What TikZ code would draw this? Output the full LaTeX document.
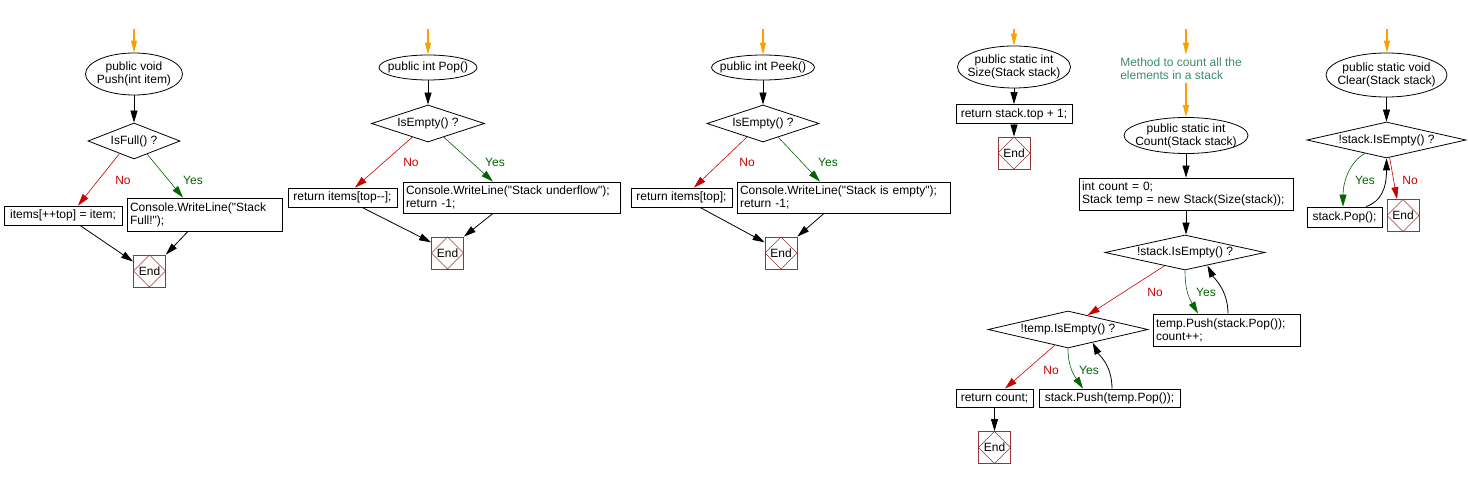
\documentclass[tikz,border=0pt]{standalone}
\usepackage{fontspec}
\setmainfont{Liberation Sans}[Ligatures=TeXOff]
\usepackage{tikz}
\usetikzlibrary{shapes.geometric, arrows.meta}
\definecolor{nored}{RGB}{204,0,0}
\definecolor{yesgreen}{RGB}{0,102,0}
\definecolor{entryorange}{RGB}{255,160,0}
\definecolor{endred}{RGB}{153,51,51}
\definecolor{notegreen}{RGB}{60,140,110}
\tikzstyle{arrow} = [line width=0.8pt, -{Triangle[length=12pt,width=7pt]}]
\tikzstyle{noarrow} = [arrow, draw=nored, line width=0.6pt]
\tikzstyle{yesarrow} = [arrow, draw=yesgreen, line width=0.6pt]
\tikzstyle{entry} = [line width=1.2pt, draw=entryorange, -{Triangle[length=12pt,width=6pt]}]
\tikzstyle{terminal} = [ellipse, draw, line width=0.8pt, align=center, inner xsep=-30pt, inner ysep=-12pt]
\tikzstyle{decision} = [diamond, draw, line width=0.8pt, inner xsep=-40pt, inner ysep=-8pt]
\tikzstyle{process} = [rectangle, draw, line width=0.8pt, align=left, inner xsep=3pt, inner ysep=0pt]
\tikzstyle{stopbox} = [rectangle, draw=endred, line width=0.8pt, minimum width=32pt, minimum height=32pt, inner sep=0pt,
  path picture={\draw[endred, line width=0.6pt] (path picture bounding box.north) -- (path picture bounding box.east)
    -- (path picture bounding box.south) -- (path picture bounding box.west) -- cycle;}]
\tikzstyle{nolabel} = [text=nored]
\tikzstyle{yeslabel} = [text=yesgreen]
\tikzstyle{notetext} = [text=notegreen, align=left]

\begin{document}
\begin{tikzpicture}[x=1pt, y=-1pt, font=\fontsize{12}{13}\selectfont]

\fill[white] (0,0) rectangle (1468,478);
\useasboundingbox (0,0) rectangle (1468,478);

% Push
\coordinate (push_in) at (134,29);
\node (push_start) [terminal, minimum width=97pt, minimum height=42pt] at (134,74) {public void\\Push(int item)};
\node (push_full) [decision, node distance=67pt, below of=push_start, minimum width=92pt, minimum height=36pt] {IsFull() ?};
\node (push_item) [process, node distance=74.5pt, below of=push_full, xshift=-71pt, minimum width=118pt, minimum height=19pt] {items[++top] = item;};
\node (push_msg) [process, node distance=73.5pt, below of=push_full, xshift=70.5pt, text width=149pt, minimum height=33pt] {Console.WriteLine("Stack\\Full!");};
\node (push_end) [stopbox, node distance=130pt, below of=push_full, xshift=15.5pt] {End};
\node (push_no) [nolabel] at (123,180) {No};
\node (push_yes) [yeslabel] at (193,180) {Yes};

\draw [entry] (push_in) -- (push_start.north);
\draw [arrow] (push_start.south) -- (push_full.north);
\draw [noarrow] (push_full.-139) -- ([xshift=15pt]push_item.north);
\draw [yesarrow] (push_full.-45) -- ([xshift=-21.5pt]push_msg.north);
\draw [arrow] ([xshift=17pt]push_item.south) -- (push_end.150);
\draw [arrow] ([xshift=-16.5pt]push_msg.south) -- (push_end.north east);

% Pop
\coordinate (pop_in) at (428,29);
\node (pop_start) [terminal, minimum width=98pt, minimum height=25pt] at (428,67.5) {public int Pop()};
\node (pop_empty) [decision, node distance=56pt, below of=pop_start, minimum width=113pt, minimum height=37pt] {IsEmpty() ?};
\node (pop_ret) [process, node distance=74pt, below of=pop_empty, xshift=-85.5pt, minimum width=109pt, minimum height=19pt] {return items[top--];};
\node (pop_msg) [process, node distance=74pt, below of=pop_empty, xshift=83.5pt, text width=211pt, minimum height=31pt] {Console.WriteLine("Stack underflow");\\return -1;};
\node (pop_end) [stopbox, node distance=129.5pt, below of=pop_empty, xshift=19.5pt] {End};
\node (pop_no) [nolabel] at (411,162) {No};
\node (pop_yes) [yeslabel] at (495,162) {Yes};

\draw [entry] (pop_in) -- (pop_start.north);
\draw [arrow] (pop_start.south) -- (pop_empty.north);
\draw [noarrow] (pop_empty.-139) -- ([xshift=12.5pt]pop_ret.north);
\draw [yesarrow] (pop_empty.-41) -- ([xshift=-18.5pt]pop_msg.north);
\draw [arrow] ([xshift=19.5pt]pop_ret.south) -- (pop_end.147);
\draw [arrow] ([xshift=-18.5pt]pop_msg.south) -- (pop_end.north east);

% Peek
\coordinate (peek_in) at (763,29);
\node (peek_start) [terminal, minimum width=103pt, minimum height=25pt] at (763,67.5) {public int Peek()};
\node (peek_empty) [decision, node distance=56pt, below of=peek_start, minimum width=112pt, minimum height=37pt] {IsEmpty() ?};
\node (peek_ret) [process, node distance=74pt, below of=peek_empty, xshift=-81.5pt, minimum width=101pt, minimum height=19pt] {return items[top];};
\node (peek_msg) [process, node distance=74pt, below of=peek_empty, xshift=80.5pt, text width=207pt, minimum height=31pt] {Console.WriteLine("Stack is empty");\\return -1;};
\node (peek_end) [stopbox, node distance=129.5pt, below of=peek_empty, xshift=18pt] {End};
\node (peek_no) [nolabel] at (747,162) {No};
\node (peek_yes) [yeslabel] at (828,162) {Yes};

\draw [entry] (peek_in) -- (peek_start.north);
\draw [arrow] (peek_start.south) -- (peek_empty.north);
\draw [noarrow] (peek_empty.-140) -- ([xshift=12.5pt]peek_ret.north);
\draw [yesarrow] (peek_empty.-42) -- ([xshift=-23.5pt]peek_msg.north);
\draw [arrow] ([xshift=18.5pt]peek_ret.south) -- (peek_end.147);
\draw [arrow] ([xshift=-19.5pt]peek_msg.south) -- (peek_end.north east);

% Size
\coordinate (size_in) at (1014,29);
\node (size_start) [terminal, minimum width=113pt, minimum height=42pt] at (1014,67) {public static int\\Size(Stack stack)};
\node (size_ret) [process, node distance=47pt, below of=size_start, minimum width=116pt, minimum height=19pt] {return stack.top + 1;};
\node (size_end) [stopbox, node distance=39pt, below of=size_ret] {End};

\draw [entry] (size_in) -- (size_start.north);
\draw [arrow] (size_start.south) -- (size_ret.north);
\draw [arrow] (size_ret.south) -- (size_end.north);

% Count
\coordinate (cnt_in) at (1186,29);
\node (cnt_note) [notetext] at (1181,69) {Method to count all the\\elements in a stack};
\node (cnt_start) [terminal, minimum width=124pt, minimum height=36pt] at (1186,135.5) {public static int\\Count(Stack stack)};
\node (cnt_init) [process, node distance=58.5pt, below of=cnt_start, text width=208pt, minimum height=32pt] {int count = 0;\\Stack temp = new Stack(Size(stack));};
\node (cnt_loop1) [decision, node distance=58.5pt, below of=cnt_init, xshift=-1pt, minimum width=160pt, minimum height=35pt] {!stack.IsEmpty() ?};
\node (cnt_push) [process, node distance=77.5pt, below of=cnt_loop1, xshift=41.5pt, text width=141pt, minimum height=32pt] {temp.Push(stack.Pop());\\count++;};
\node (cnt_loop2) [decision, node distance=77pt, below of=cnt_loop1, xshift=-117pt, minimum width=160pt, minimum height=37pt] {!temp.IsEmpty() ?};
\node (cnt_ret) [process, node distance=68.5pt, below of=cnt_loop2, xshift=-73.5pt, minimum width=77pt, minimum height=18pt] {return count;};
\node (cnt_back) [process, node distance=68.5pt, below of=cnt_loop2, xshift=41.5pt, minimum width=141pt, minimum height=18pt] {stack.Push(temp.Pop());};
\node (cnt_end) [stopbox, node distance=49.5pt, below of=cnt_ret] {End};
\node (cnt_no1) [nolabel] at (1155,292) {No};
\node (cnt_yes1) [yeslabel] at (1206,292) {Yes};
\node (cnt_no2) [nolabel] at (1051,370) {No};
\node (cnt_yes2) [yeslabel] at (1089,370) {Yes};

\draw [entry] (cnt_in) -- (cnt_in |- cnt_note.north);
\draw [entry] (cnt_note.south -| cnt_start) -- (cnt_start.north);
\draw [arrow] (cnt_start.south) -- (cnt_init.north);
\draw [arrow] (cnt_init.south) -- (cnt_init.south |- cnt_loop1.north);
\draw [noarrow] (cnt_loop1.-147) -- (cnt_loop2.36);
\draw [yesarrow] (cnt_loop1.south) .. controls +(0,22) and +(-8,-14) .. ([xshift=-28.5pt]cnt_push.north);
\draw [arrow] ([xshift=1.5pt]cnt_push.north) .. controls +(0,-24) and +(6,12) .. (cnt_loop1.-30);
\draw [noarrow] (cnt_loop2.-130) -- ([xshift=10.5pt]cnt_ret.north);
\draw [yesarrow] (cnt_loop2.south) .. controls +(0,20) and +(-8,-12) .. ([xshift=-26.5pt]cnt_back.north);
\draw [arrow] ([xshift=2.5pt]cnt_back.north) .. controls +(0,-24) and +(6,12) .. (cnt_loop2.-28);
\draw [arrow] (cnt_ret.south) -- (cnt_end.north);

% Clear
\coordinate (clr_in) at (1387,29);
\node (clr_start) [terminal, minimum width=121pt, minimum height=44pt] at (1386.5,75) {public static void\\Clear(Stack stack)};
\node (clr_loop) [decision, node distance=65pt, below of=clr_start, minimum width=159pt, minimum height=36pt] {!stack.IsEmpty() ?};
\node (clr_pop) [process, node distance=77pt, below of=clr_loop, xshift=-42pt, minimum width=75pt, minimum height=20pt] {stack.Pop();};
\node (clr_end) [stopbox, node distance=75.5pt, below of=clr_loop, xshift=16.5pt] {End};
\node (clr_yes) [yeslabel] at (1365,180) {Yes};
\node (clr_no) [nolabel] at (1410,180) {No};

\draw [entry] (clr_in) -- (clr_in |- clr_start.north);
\draw [arrow] (clr_start.south) -- (clr_loop.north);
\draw [yesarrow] (clr_loop.-148) .. controls +(-15,8) and +(0,-25) .. ([xshift=-1.5pt]clr_pop.north);
\draw [arrow] ([xshift=21.5pt]clr_pop.north) .. controls +(15,-5) and +(0,30) .. (clr_loop.south);
\draw [noarrow] (clr_loop.-80) -- ([xshift=-6pt]clr_end.north);

\end{tikzpicture}
\end{document}
